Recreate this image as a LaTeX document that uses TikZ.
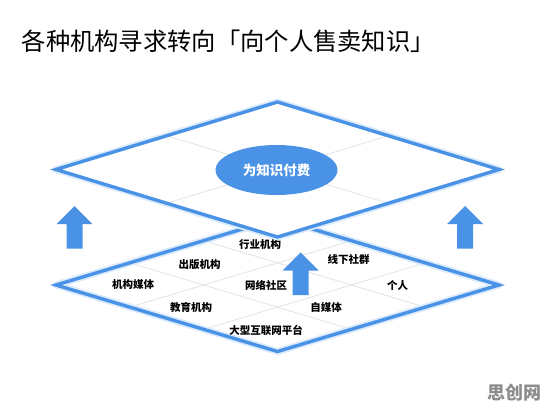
\documentclass[tikz,border=0pt]{standalone}
\usepackage{fontspec}
\setmainfont{Noto Sans CJK SC}
\usetikzlibrary{calc,shapes.geometric}
\definecolor{lblue}{HTML}{4A92E6}
\definecolor{glowc}{HTML}{DCEBFC}
\definecolor{gridc}{HTML}{E3E3E3}
\definecolor{wmark}{HTML}{8C8C8C}
\tikzset{
  edgeglow/.style={draw=glowc,line width=7pt,line join=round},
  edgeline/.style={draw=lblue,line width=3.4pt,line join=miter},
  gridline/.style={draw=gridc,line width=0.8pt},
  celltext/.style={font=\bfseries\fontsize{10.5}{12}\selectfont,text=black,inner sep=0pt},
  pics/uparrow/.style={code={
    \fill[lblue] (-8,0) -- (-8,-24.5) -- (-18,-24.5) -- (0,-42.5) -- (18,-24.5) -- (8,-24.5) -- (8,0) -- cycle;
  }}
}
\begin{document}
\begin{tikzpicture}[x=1pt,y=-1pt]
\useasboundingbox (0,0) rectangle (553,415);
\fill[white] (0,0) rectangle (553,415);

% title
\node[anchor=west,inner sep=0pt,font=\fontsize{24.3}{28}\selectfont] (title) at (21.5,41) {各种机构寻求转向「向个人售卖知识」};

% bottom diamond
\coordinate (bT) at (277.5,218.5);
\coordinate (bL) at (56,285);
\coordinate (bR) at (499,285);
\coordinate (bB) at (277.5,351.5);
\fill[white] (bT) -- (bR) -- (bB) -- (bL) -- cycle;
\foreach \k in {0.3333,0.6667}{
  \draw[gridline] ($(bT)!\k!(bL)$) -- ($(bR)!\k!(bB)$);
  \draw[gridline] ($(bT)!\k!(bR)$) -- ($(bL)!\k!(bB)$);
}
\draw[edgeglow] (bT) -- (bR) -- (bB) -- (bL) -- cycle;
\draw[edgeline] (bT) -- (bR) -- (bB) -- (bL) -- cycle;

% labels in bottom diamond
\node[celltext] (c1) at (260,245) {行业机构};
\node[celltext] (c2) at (199.5,265) {出版机构};
\node[celltext] (c3) at (348.5,259.5) {线下社群};
\node[celltext] (c4) at (133,285) {机构媒体};
\node[celltext] (c5) at (266,285) {网络社区};
\node[celltext] (c6) at (397.5,285) {个人};
\node[celltext] (c7) at (191,307.5) {教育机构};
\node[celltext] (c8) at (326,307.5) {自媒体};
\node[celltext] (c9) at (266,330) {大型互联网平台};

% arrows
\pic (al) at (74.5,248.5) {uparrow};
\pic (am) at (300.5,295) {uparrow};
\pic (ar) at (465,248.5) {uparrow};

% top diamond
\coordinate (tT) at (277.5,102);
\coordinate (tL) at (56,169.5);
\coordinate (tR) at (499,169.5);
\coordinate (tB) at (277.5,237);
\draw[edgeglow] (tT) -- (tR) -- (tB) -- (tL) -- cycle;
\fill[white] (tT) -- (tR) -- (tB) -- (tL) -- cycle;
\draw[gridline] ($(tT)!0.5!(tL)$) -- ($(tR)!0.5!(tB)$);
\draw[gridline] ($(tT)!0.5!(tR)$) -- ($(tL)!0.5!(tB)$);
\draw[edgeline] (tT) -- (tR) -- (tB) -- (tL) -- cycle;

\node[ellipse,fill=lblue,minimum width=122pt,minimum height=50pt,inner sep=0pt,
      text=white,font=\bfseries\fontsize{13.5}{15}\selectfont] (pay) at (276.5,170) {为知识付费};

% watermark
\node[text=wmark,font=\bfseries\fontsize{18}{20}\selectfont,inner sep=0pt] (wm) at (514,392.5) {思创网};
\end{tikzpicture}
\end{document}
